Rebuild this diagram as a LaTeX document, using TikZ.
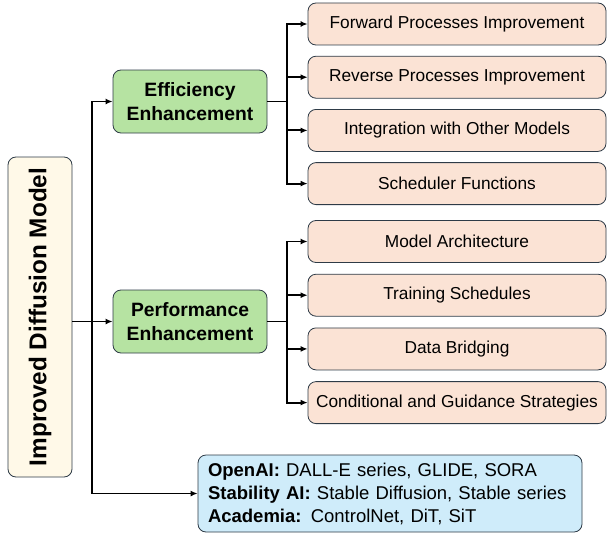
\documentclass[tikz,border=0pt]{standalone}
\usepackage{fontspec}
\setmainfont{Liberation Sans}
\usetikzlibrary{arrows.meta}
\definecolor{rootfill}{HTML}{FFF9E8}
\definecolor{midfill}{HTML}{B6E3A2}
\definecolor{leaffill}{HTML}{FBE3D5}
\definecolor{orgfill}{HTML}{CFECFA}
\definecolor{edgeline}{HTML}{2E3B47}
\begin{document}
\begin{tikzpicture}[
			x=1pt,y=-1pt,
			box/.style={draw=edgeline,line width=0.8pt,rounded corners=8pt,inner sep=0pt},
			root/.style={box,fill=rootfill,minimum width=64pt,minimum height=320pt,font=\fontsize{24.3}{28}\selectfont\bfseries},
			mid/.style={box,fill=midfill,minimum width=154pt,minimum height=63pt,align=center,font=\fontsize{19.3}{24}\selectfont\bfseries},
			leaf/.style={box,fill=leaffill,minimum width=298pt,minimum height=42pt,font=\fontsize{17.3}{20}\selectfont},
			org/.style={box,fill=orgfill,text width=364pt,inner xsep=10pt,minimum height=77pt,align=left,font=\fontsize{18.5}{23}\selectfont},
			link/.style={line width=1.9pt,-{Latex[length=7pt,width=6pt]}}
		]
		\useasboundingbox (0,0) rectangle (607,535);
		\node[root] (root) at (40,317) {\rotatebox{90}{Improved Diffusion Model}};
		\node[mid] (eff) at (190,101.5) {Efficiency\\Enhancement};
		\node[mid] (perf) at (190,321.5) {Performance\\Enhancement};
		\node[leaf] (e1) at (457,24) {Forward Processes Improvement};
		\node[leaf] (e2) at (457,77.2) {Reverse Processes Improvement};
		\node[leaf] (e3) at (457,130.4) {Integration with Other Models};
		\node[leaf] (e4) at (457,183.6) {Scheduler Functions};
		\node[leaf] (p1) at (457,241.5) {Model Architecture};
		\node[leaf] (p2) at (457,295.2) {Training Schedules};
		\node[leaf] (p3) at (457,348.9) {Data Bridging};
		\node[leaf] (p4) at (457,402.6) {Conditional and Guidance Strategies};
		\node[org] (org) at (390,493.5) {\textbf{OpenAI:} DALL-E series, GLIDE, SORA\\\textbf{Stability AI:} Stable Diffusion, Stable series\\\textbf{Academia:} ControlNet, DiT, SiT};
		\coordinate (trunk) at (92,0);
		\draw[link] (root.east |- perf.west) -- (perf.west);
		\draw[link] (trunk |- org.west) |- (eff.west);
		\draw[link] (trunk |- org.west) -- (org.west);
		\foreach \i in {1,...,4} {
				\draw[link] (eff.east) -- ++(20,0) |- (e\i.west);
				\draw[link] (perf.east) -- ++(20,0) |- (p\i.west);
			}
	\end{tikzpicture}
\end{document}
